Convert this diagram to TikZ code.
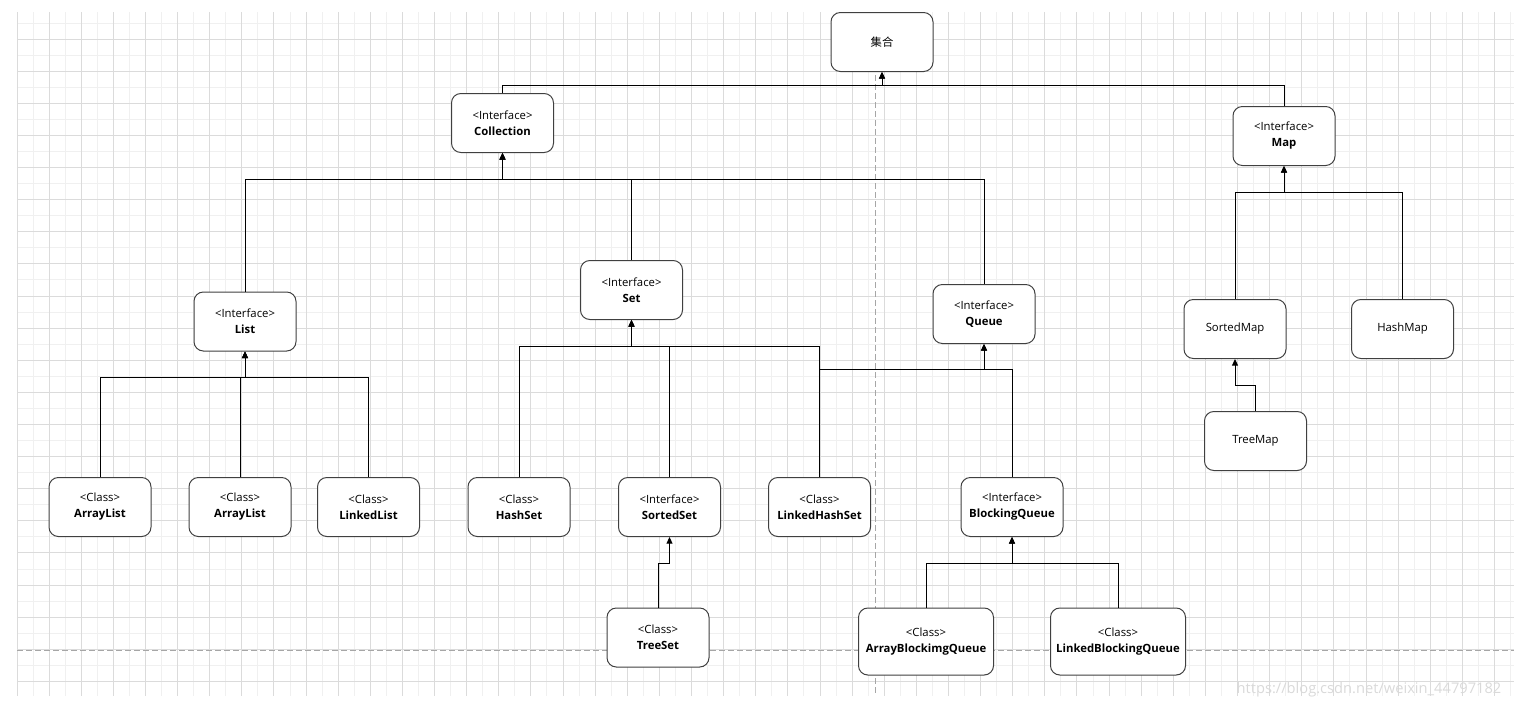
\documentclass[tikz,border=0pt]{standalone}
\usepackage{fontspec}
\setmainfont{Open Sans}
\newfontfamily\cjk{Noto Sans CJK SC}
\usepackage{tikz}
\usetikzlibrary{arrows.meta,positioning}

\newcommand{\iface}[1]{<Interface>\\\textbf{#1}}
\newcommand{\klass}[1]{<Class>\\\textbf{#1}}

\begin{document}
\begin{tikzpicture}[
  x=0.75pt, y=-0.75pt,
  box/.style={draw=black!75, fill=white, rounded corners=7pt, line width=0.75pt, minimum width=76.5pt, minimum height=44.25pt, inner sep=2pt, align=center, font={\fontsize{8.5}{12}\selectfont}},
  wide/.style={box, minimum width=101.25pt, minimum height=50.25pt},
  arrow/.style={-{Triangle[length=5pt,width=4.5pt]}, line width=0.75pt},
  minor/.style={black!6, line width=0.75pt},
  major/.style={black!14, line width=0.75pt},
  guide/.style={black!35, line width=0.75pt, dash pattern=on 4.5pt off 2.25pt}
]
\useasboundingbox (0,0) rectangle (1514,708);
% grid paper
\foreach \i in {0,...,93}
  \draw[minor] ({17+16.06*\i},12) -- ({17+16.06*\i},696);
\foreach \j in {0,...,41}
  \draw[minor] (17,{23+16.06*\j}) -- (1514,{23+16.06*\j});
\foreach \i in {0,2,...,92}
  \draw[major] ({17+16.06*\i},12) -- ({17+16.06*\i},696);
\foreach \j in {1,3,...,41}
  \draw[major] (17,{23+16.06*\j}) -- (1514,{23+16.06*\j});
\draw[guide] (875.5,12) -- (875.5,696);
\draw[guide] (17,650) -- (1514,650);

% boxes
\node[box] (top) at (882,42) {\cjk 集合};
\node[box] (coll) at (502.5,123) {\iface{Collection}};
\node[box] (map) at (1284,136) {\iface{Map}};
\node[box] (list) at (245,321.5) {\iface{List}};
\node[box] (set) at (631.5,290) {\iface{Set}};
\node[box] (queue) at (984,314) {\iface{Queue}};
\node[box] (smap) at (1235,329) {SortedMap};
\node[box] (hmap) at (1402.5,329) {HashMap};
\node[box] (tmap) at (1255.5,441) {TreeMap};
\node[box] (al1) at (100,507) {\klass{ArrayList}};
\node[box] (al2) at (240,507) {\klass{ArrayList}};
\node[box] (llist) at (368.5,507) {\klass{LinkedList}};
\node[box] (hset) at (519,507) {\klass{HashSet}};
\node[box] (sset) at (669.5,507) {\iface{SortedSet}};
\node[box] (lhset) at (819.5,507) {\klass{LinkedHashSet}};
\node[box] (bq) at (1012,507) {\iface{BlockingQueue}};
\node[box] (tset) at (658,637.5) {\klass{TreeSet}};
\node[wide] (abq) at (926,641.5) {\klass{ArrayBlockimgQueue}};
\node[wide] (lbq) at (1118,641.5) {\klass{LinkedBlockingQueue}};

% bus heights
\coordinate (topbus) at (0,85);
\coordinate (collbus) at (0,179);
\coordinate (mapbus) at (0,192);
\coordinate (listbus) at (0,377);
\coordinate (setbus) at (0,346);
\coordinate (queuebus) at (0,369);
\coordinate (tmapbus) at (0,385);
\coordinate (tsetbus) at (0,563);
\coordinate (bqbus) at (0,563);

% connectors
\draw[arrow] (coll.north) |- (top.south |- topbus) -- (top.south);
\draw[arrow] (map.north) |- (top.south |- topbus) -- (top.south);
\draw[arrow] (list.north) |- (coll.south |- collbus) -- (coll.south);
\draw[arrow] (set.north) |- (coll.south |- collbus) -- (coll.south);
\draw[arrow] (queue.north) |- (coll.south |- collbus) -- (coll.south);
\draw[arrow] (smap.north) |- (map.south |- mapbus) -- (map.south);
\draw[arrow] (hmap.north) |- (map.south |- mapbus) -- (map.south);
\draw[arrow] (tmap.north) |- (smap.south |- tmapbus) -- (smap.south);
\draw[arrow] (al1.north) |- (list.south |- listbus) -- (list.south);
\draw[arrow] (al2.north) |- (list.south |- listbus) -- (list.south);
\draw[arrow] (llist.north) |- (list.south |- listbus) -- (list.south);
\draw[arrow] (hset.north) |- (set.south |- setbus) -- (set.south);
\draw[arrow] (sset.north) |- (set.south |- setbus) -- (set.south);
\draw[arrow] (lhset.north) |- (set.south |- setbus) -- (set.south);
\draw[arrow] (lhset.north) |- (queue.south |- queuebus) -- (queue.south);
\draw[arrow] (bq.north) |- (queue.south |- queuebus) -- (queue.south);
\draw[arrow] (tset.north) |- (sset.south |- tsetbus) -- (sset.south);
\draw[arrow] (abq.north) |- (bq.south |- bqbus) -- (bq.south);
\draw[arrow] (lbq.north) |- (bq.south |- bqbus) -- (bq.south);

\node[anchor=east, text=black!15, font={\fontsize{11}{12}\selectfont}] (mark) at (1506,690) {https://blog.csdn.net/weixin\_44797182};
\end{tikzpicture}
\end{document}
